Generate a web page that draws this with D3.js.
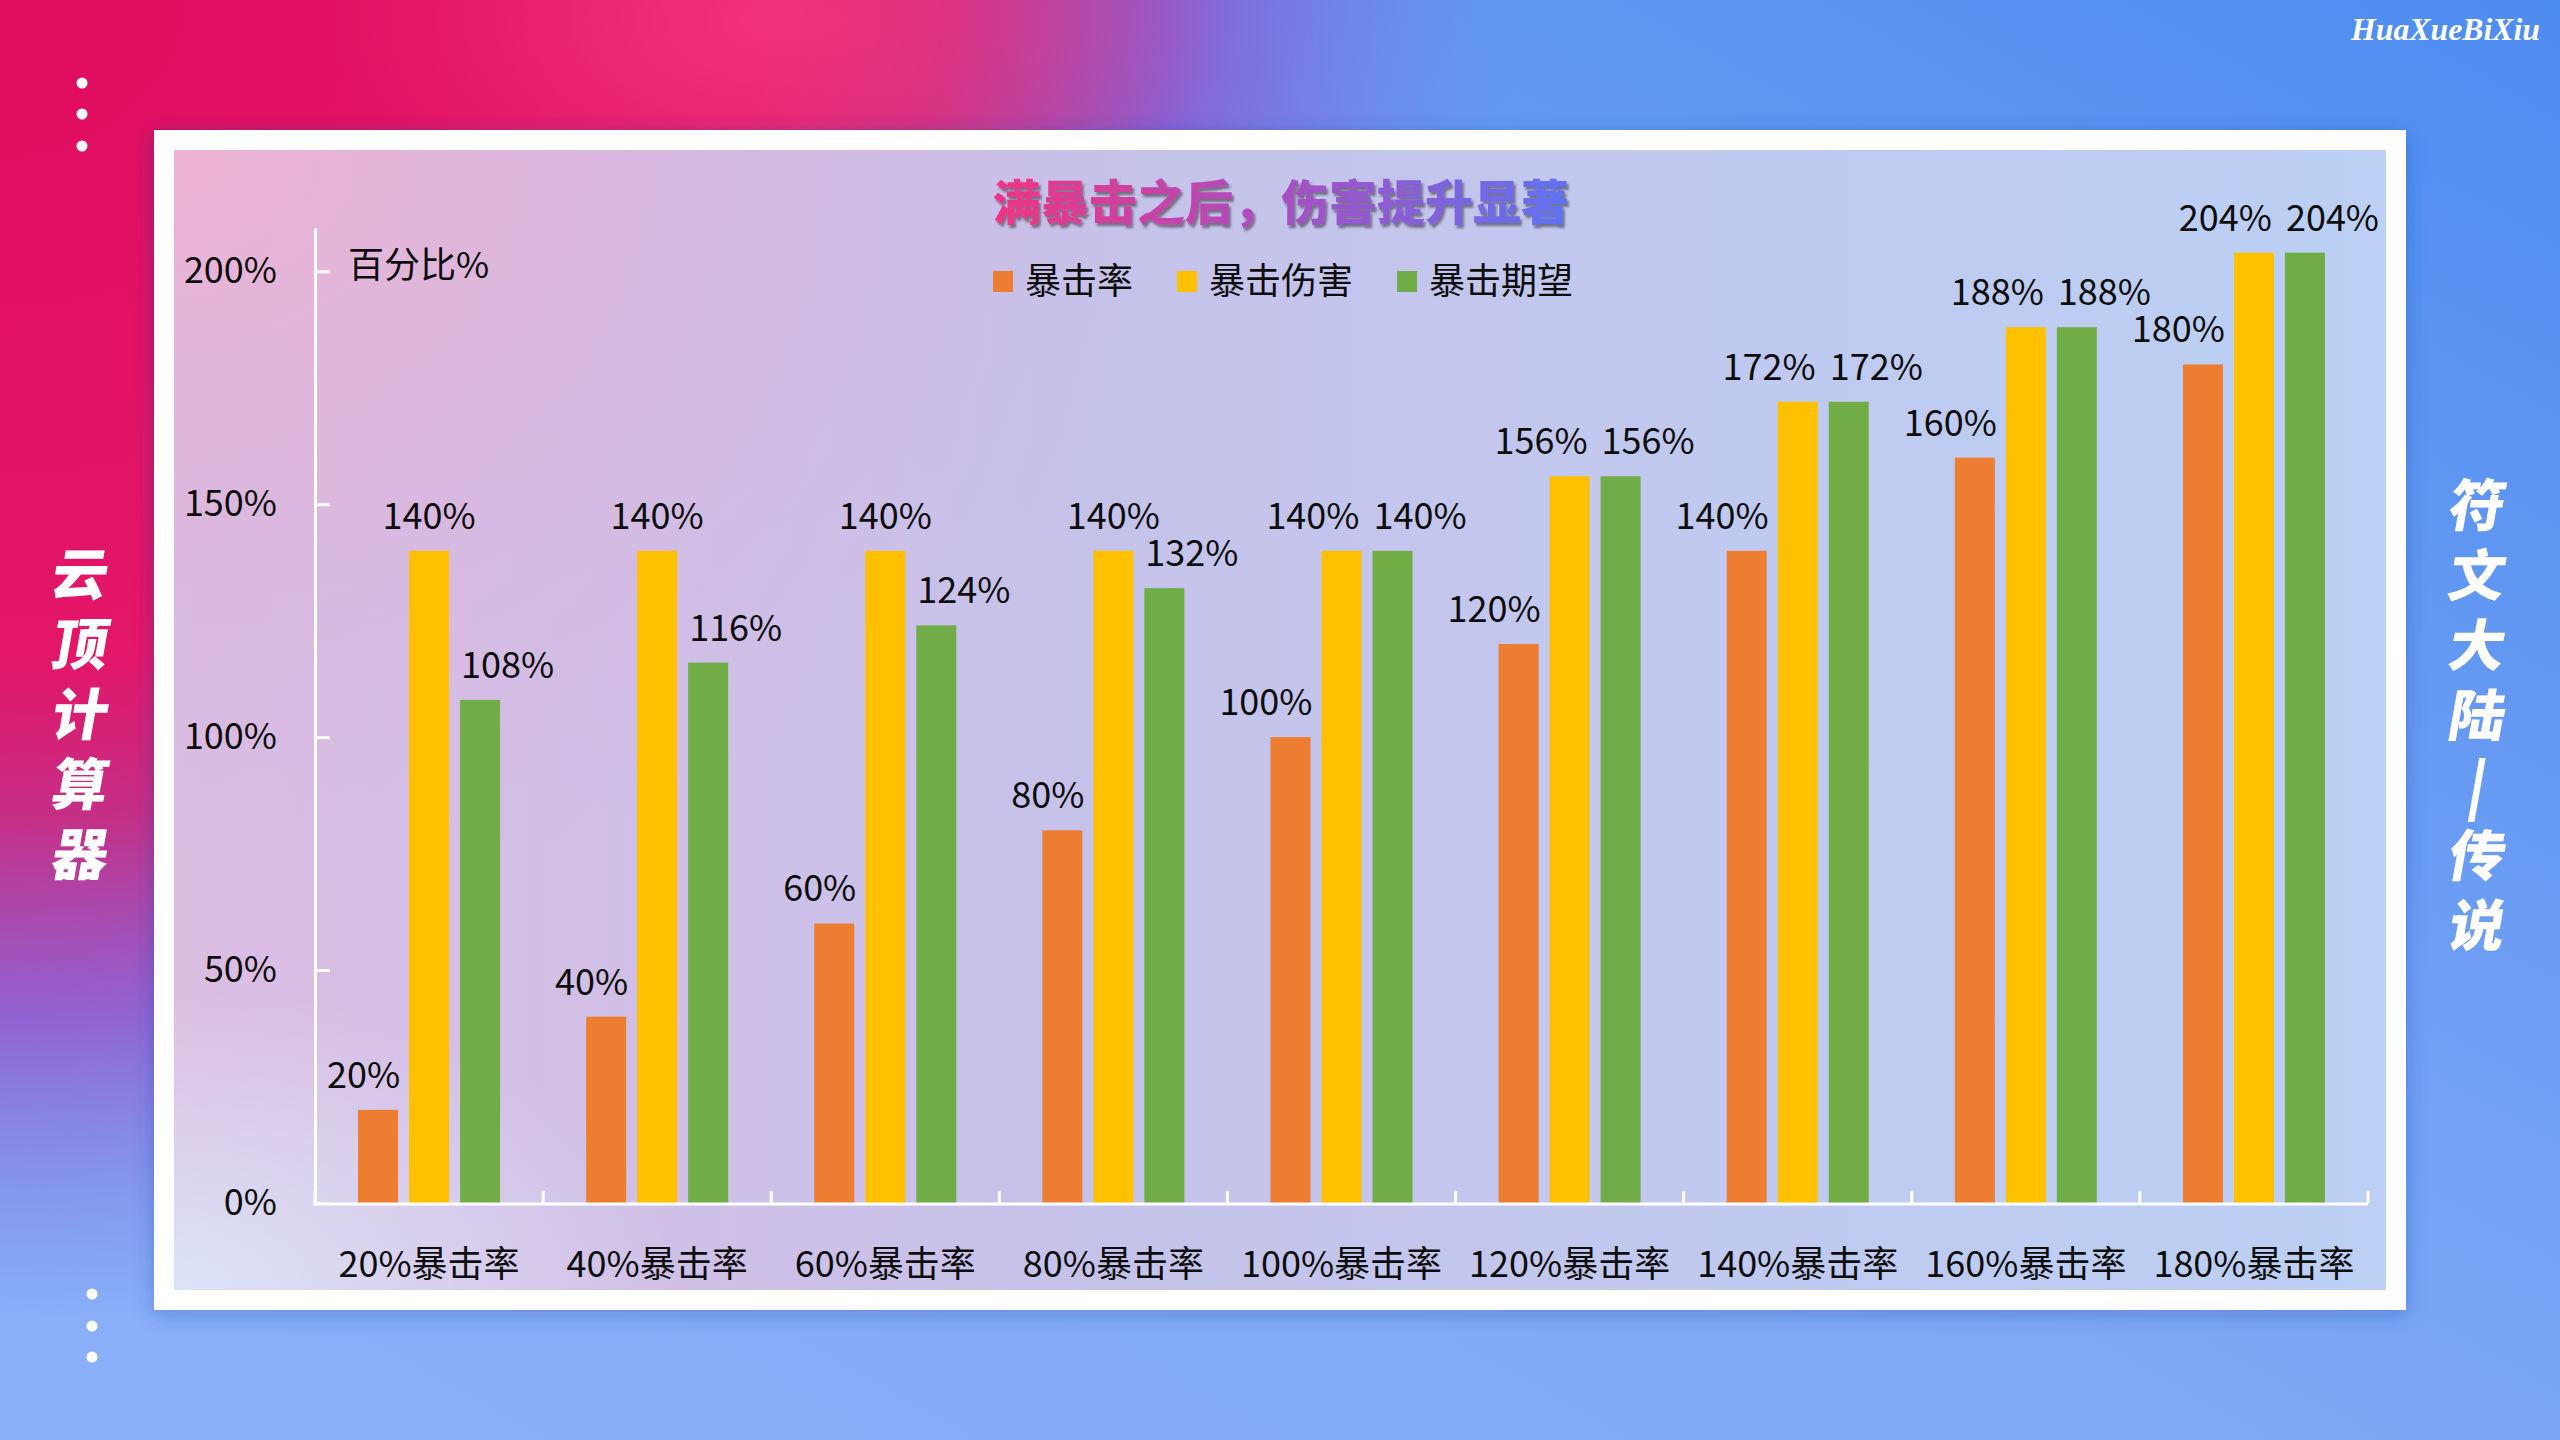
<!DOCTYPE html>
<html><head><meta charset="utf-8">
<script src="https://cdn.jsdelivr.net/npm/d3@7"></script>
<style>
html,body{margin:0;padding:0;background:#5b8ff0;}
svg{display:block;}
text{font-family:"Noto Sans CJK SC","Noto Sans",sans-serif;}
</style></head>
<body>
<script>
// ---------- data ----------
const categories = ["20%暴击率","40%暴击率","60%暴击率","80%暴击率","100%暴击率","120%暴击率","140%暴击率","160%暴击率","180%暴击率"];
const seriesNames = ["暴击率","暴击伤害","暴击期望"];
const critRate   = [20,40,60,80,100,120,140,160,180];
const critDamage = [140,140,140,140,140,156,172,188,204];
const critExpect = [108,116,124,132,140,156,172,188,204];
const yTicks = [0,50,100,150,200];
const titleText = "满暴击之后，伤害提升显著";
const yTitle = "百分比%";
const leftSide = ["云","顶","计","算","器"];
const rightSide = ["符","文","大","陆","|","传","说"];
const watermark = "HuaXueBiXiu";
const colors = ["#ed7d31","#ffc000","#70ad47"];

const seriesValues = [critRate, critDamage, critExpect];

const W = 2560, H = 1440;
const svg = d3.select("body").append("svg").attr("width", W).attr("height", H);
const defs = svg.append("defs");

// background gradients
const bgLin = defs.append("linearGradient").attr("id","bgLin").attr("x1","0").attr("y1","1").attr("x2","1").attr("y2","0");
bgLin.append("stop").attr("offset","0").attr("stop-color","#8cb0f8");
bgLin.append("stop").attr("offset","0.45").attr("stop-color","#7fa8f6");
bgLin.append("stop").attr("offset","1").attr("stop-color","#4d8cf0");

const bgPink = defs.append("radialGradient").attr("id","bgPink")
  .attr("gradientUnits","userSpaceOnUse").attr("cx",0).attr("cy",0).attr("r",1520)
  .attr("gradientTransform","scale(1,0.87)");
bgPink.append("stop").attr("offset","0").attr("stop-color","#e00c5e").attr("stop-opacity",1);
bgPink.append("stop").attr("offset","0.5").attr("stop-color","#e31668").attr("stop-opacity",1);
bgPink.append("stop").attr("offset","0.62").attr("stop-color","#c82880").attr("stop-opacity",0.95);
bgPink.append("stop").attr("offset","0.77").attr("stop-color","#9450c8").attr("stop-opacity",0.8);
bgPink.append("stop").attr("offset","0.92").attr("stop-color","#7a70e0").attr("stop-opacity",0.3);
bgPink.append("stop").attr("offset","1").attr("stop-color","#6a80ee").attr("stop-opacity",0);

const bgHot = defs.append("radialGradient").attr("id","bgHot")
  .attr("gradientUnits","userSpaceOnUse").attr("cx",780).attr("cy",20).attr("r",450)
  .attr("gradientTransform","translate(780,20) scale(1,0.5) translate(-780,-20)");
bgHot.append("stop").attr("offset","0").attr("stop-color","#f63a7e").attr("stop-opacity",0.8);
bgHot.append("stop").attr("offset","1").attr("stop-color","#f63a7e").attr("stop-opacity",0);

// panel gradients
const pLin = defs.append("linearGradient").attr("id","pLin").attr("x1","0").attr("y1","0").attr("x2","1").attr("y2","0");
pLin.append("stop").attr("offset","0").attr("stop-color","#dcbde2");
pLin.append("stop").attr("offset","0.4").attr("stop-color","#c6c2ea");
pLin.append("stop").attr("offset","1").attr("stop-color","#bbd0f4");
const pPink = defs.append("radialGradient").attr("id","pPink")
  .attr("gradientUnits","userSpaceOnUse").attr("cx",174).attr("cy",150).attr("r",1000)
  .attr("gradientTransform","translate(174,150) scale(1,0.75) translate(-174,-150)");
pPink.append("stop").attr("offset","0").attr("stop-color","#efb3d3").attr("stop-opacity",1);
pPink.append("stop").attr("offset","0.5").attr("stop-color","#dcb4dc").attr("stop-opacity",0.6);
pPink.append("stop").attr("offset","1").attr("stop-color","#d0b8e4").attr("stop-opacity",0);
const pLight = defs.append("radialGradient").attr("id","pLight")
  .attr("gradientUnits","userSpaceOnUse").attr("cx",174).attr("cy",1290).attr("r",500)
  .attr("gradientTransform","translate(174,1290) scale(1,0.6) translate(-174,-1290)");
pLight.append("stop").attr("offset","0").attr("stop-color","#dbe4f8").attr("stop-opacity",1);
pLight.append("stop").attr("offset","1").attr("stop-color","#dbe4f8").attr("stop-opacity",0);

// title gradient
const tg = defs.append("linearGradient").attr("id","titleGrad")
  .attr("gradientUnits","userSpaceOnUse").attr("x1",996).attr("y1",0).attr("x2",1567).attr("y2",0);
tg.append("stop").attr("offset","0").attr("stop-color","#ee3584");
tg.append("stop").attr("offset","0.5").attr("stop-color","#a84fc2");
tg.append("stop").attr("offset","1").attr("stop-color","#5f72f2");

const ts = defs.append("filter").attr("id","tshadow").attr("x","-10%").attr("y","-30%").attr("width","120%").attr("height","160%");
ts.append("feDropShadow").attr("dx",2).attr("dy",3).attr("stdDeviation",1.2).attr("flood-color","#303030").attr("flood-opacity",0.55);
const fs = defs.append("filter").attr("id","fshadow").attr("x","-5%").attr("y","-5%").attr("width","110%").attr("height","110%");
fs.append("feDropShadow").attr("dx",0).attr("dy",4).attr("stdDeviation",10).attr("flood-color","#2040a0").attr("flood-opacity",0.35);

// background
svg.append("rect").attr("width",W).attr("height",H).attr("fill","url(#bgLin)");
svg.append("rect").attr("width",W).attr("height",H).attr("fill","url(#bgPink)");
svg.append("rect").attr("width",W).attr("height",H).attr("fill","url(#bgHot)");

// decorative dots
const dotsTop = [83,114,146], dotsBot = [1294,1326,1357];
svg.selectAll("circle.dt").data(dotsTop).join("circle").attr("cx",82).attr("cy",d=>d).attr("r",5.5).attr("fill","#fff");
svg.selectAll("circle.db").data(dotsBot).join("circle").attr("cx",92).attr("cy",d=>d).attr("r",5.5).attr("fill","#fff");

// watermark
svg.append("text").attr("x",2351).attr("y",40).attr("fill","#fff")
  .style("font-family","'Liberation Serif','DejaVu Serif',serif").style("font-style","italic").style("font-weight","bold")
  .attr("font-size",32).attr("textLength",189).attr("lengthAdjust","spacingAndGlyphs").text(watermark);

// side texts
function sideText(chars, cx, y0){
  chars.forEach((c,i)=>{
    const cy = y0 + i*70;
    svg.append("text").attr("fill","#fff").attr("font-size",56).attr("font-weight",900)
      .attr("text-anchor","middle")
      .attr("transform",`translate(${cx},${cy+20}) skewX(-10)`)
      .text(c);
  });
}
sideText(leftSide, 77, 575);
sideText(rightSide, 2474, 506);

// frame + panel
svg.append("rect").attr("x",154).attr("y",130).attr("width",2252).attr("height",1180).attr("fill","#fff").attr("filter","url(#fshadow)");
svg.append("rect").attr("x",174).attr("y",150).attr("width",2212).attr("height",1140).attr("fill","url(#pLin)");
svg.append("rect").attr("x",174).attr("y",150).attr("width",2212).attr("height",1140).attr("fill","url(#pPink)");
svg.append("rect").attr("x",174).attr("y",150).attr("width",2212).attr("height",1140).attr("fill","url(#pLight)");

// scales
const plotL = 315, plotR = 2368, plotB = 1203, plotT = 228;
const x0 = d3.scaleBand().domain(categories).range([plotL, plotR]).paddingInner(0.3775).paddingOuter(0.3775/2);
const x1 = d3.scaleBand().domain(seriesNames).range([0, x0.bandwidth()]).paddingInner(11/51).paddingOuter(0);
const y = d3.scaleLinear().domain([0, 209.3]).range([plotB, plotT]);

// bars
const groups = svg.append("g").selectAll("g").data(categories).join("g")
  .attr("transform", d=>`translate(${x0(d)},0)`);
groups.selectAll("rect").data((d,i)=>seriesNames.map((s,j)=>({s, j, v: seriesValues[j][i], i})))
  .join("rect")
  .attr("x", d=>x1(d.s)).attr("width", x1.bandwidth())
  .attr("y", d=>y(d.v)).attr("height", d=>plotB - y(d.v))
  .attr("fill", d=>colors[d.j]);

// data labels
groups.selectAll("text.lbl").data((d,i)=>seriesNames.map((s,j)=>({s, j, v: seriesValues[j][i], i})))
  .join("text").attr("class","lbl")
  .attr("font-size",36).attr("fill","#0d0d0d")
  .attr("y", d=>y(d.v) - 22)
  .each(function(d){
    const bx = x1(d.s), bw = x1.bandwidth();
    let anchor = "middle", x = bx + bw/2;
    if (d.j === 0) { anchor = "end"; x = bx + bw + 2; }
    else if (d.j === 1 && critDamage[d.i] === critExpect[d.i]) { anchor = "end"; x = bx + bw - 2; }
    else if (d.j === 2) { anchor = "start"; x = bx + 1; }
    d3.select(this).attr("x", x).attr("text-anchor", anchor);
  })
  .text(d=>d.v + "%");

// y axis
const yAxis = svg.append("g").attr("transform",`translate(${plotL},0)`)
  .call(d3.axisLeft(y).tickValues(yTicks).tickFormat(d=>d+"%").tickSizeInner(-15).tickSizeOuter(0).tickPadding(38));
yAxis.select(".domain").attr("stroke","#fff").attr("stroke-width",3);
yAxis.selectAll(".tick line").attr("stroke","#fff").attr("stroke-width",3);
yAxis.selectAll(".tick text").attr("font-size",36).attr("fill","#0d0d0d").style("font-family","'Noto Sans CJK SC',sans-serif");

// x axis
const xAxis = svg.append("g").attr("transform",`translate(0,${plotB})`)
  .call(d3.axisBottom(x0).tickSize(0).tickPadding(48));
xAxis.select(".domain").remove();
xAxis.selectAll(".tick text").attr("font-size",36).attr("fill","#0d0d0d").style("font-family","'Noto Sans CJK SC',sans-serif");
svg.append("line").attr("x1",plotL-1.5).attr("x2",plotR).attr("y1",plotB+1).attr("y2",plotB+1).attr("stroke","#fff").attr("stroke-width",3);
const bounds = d3.range(categories.length+1).map(i=> plotL + i*x0.step());
svg.selectAll("line.xt").data(bounds).join("line").attr("class","xt")
  .attr("x1",d=>d).attr("x2",d=>d).attr("y1",plotB).attr("y2",plotB-12)
  .attr("stroke","#fff").attr("stroke-width",3);

// y title
svg.append("text").attr("x",348).attr("y",278).attr("font-size",36).attr("fill","#0d0d0d").text(yTitle);

// title
svg.append("text").attr("x",1281).attr("y",220).attr("text-anchor","middle")
  .attr("font-size",48).attr("font-weight",900).attr("fill","url(#titleGrad)")
  .attr("filter","url(#tshadow)").text(titleText);

// legend
const leg = svg.append("g");
let cx = 993;
seriesNames.forEach((s,j)=>{
  leg.append("rect").attr("x",cx).attr("y",271).attr("width",20).attr("height",21).attr("fill",colors[j]);
  const t = leg.append("text").attr("x",cx+32).attr("y",294).attr("font-size",36).attr("fill","#0d0d0d").text(s);
  cx = cx + 32 + t.node().getComputedTextLength() + 44;
});
</script>
</body></html>
